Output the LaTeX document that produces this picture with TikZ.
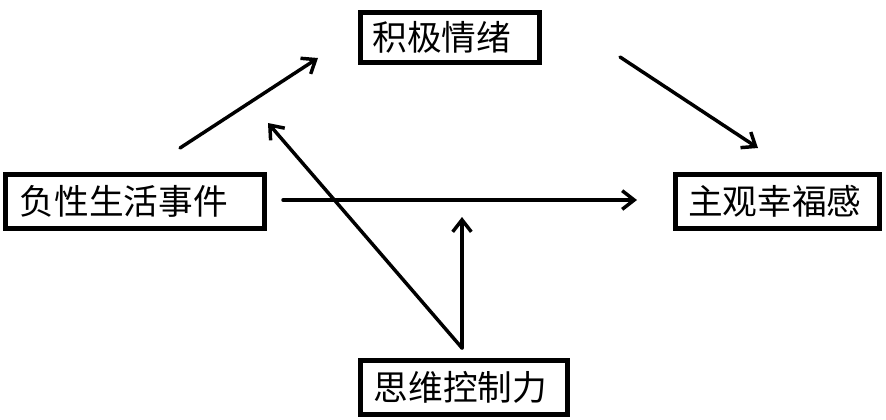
\documentclass[tikz,border=0pt]{standalone}
\usepackage{fontspec}
\newfontfamily\cjk{Noto Sans CJK SC}
\usetikzlibrary{arrows.meta}
\tikzset{
	varbox/.style={draw, line width=3.5pt, inner ysep=0pt, minimum height=40.7pt, align=left, font=\cjk\fontsize{26}{30}\selectfont},
	path/.style={line width=2.6pt, line cap=round, -{Straight Barb[length=9pt,width=14pt,line width=2.6pt]}}
}
\begin{document}
\begin{tikzpicture}[x=0.75pt, y=-0.75pt]
	\useasboundingbox (0,0) rectangle (886,419);
	% boxes
	\node[varbox, inner xsep=9pt, text width=116.5pt, minimum height=37.7pt] (pos) at (450,37.5) {积极情绪};
	\node[varbox, inner xsep=11pt, text width=172.5pt] (neg) at (135,201.5) {负性生活事件};
	\node[varbox, inner xsep=9.5pt, text width=134pt] (swb) at (777.5,201.5) {主观幸福感};
	\node[varbox, inner xsep=10pt, text width=135.5pt] (tc) at (464,387.5) {思维控制力};
	% free ends of the arrows
	\coordinate (a1s) at (180,148);
	\coordinate (a1e) at (318,58);
	\coordinate (a2s) at (620,57);
	\coordinate (a2e) at (758,148);
	\coordinate (cs) at (283,200);
	\coordinate (ce) at (637,200);
	\coordinate (base) at (462,348);
	\coordinate (mod1) at (268,123);
	\coordinate (mod2) at (462,217);
	% arrows
	\draw[path] (a1s) -- (a1e);
	\draw[path] (a2s) -- (a2e);
	\draw[path] (cs) -- (ce);
	\draw[path] (base) -- (mod1);
	\draw[path] (base) -- (mod2);
\end{tikzpicture}
\end{document}
